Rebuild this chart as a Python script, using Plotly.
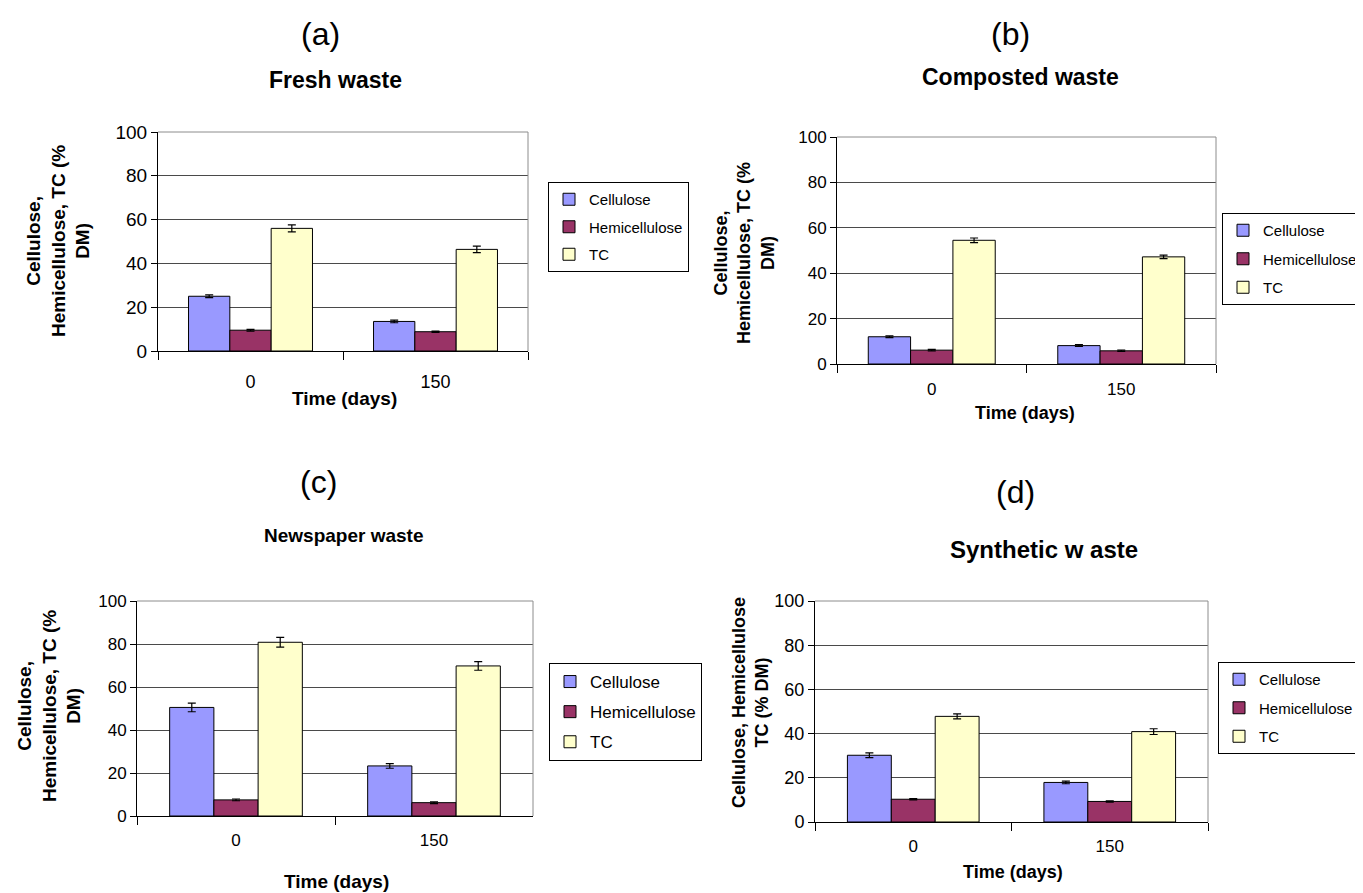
import plotly.graph_objects as go

W, H = 1363, 893
FONT = "Liberation Sans, Arial, sans-serif"

times = ["0", "150"]
series_names = ["Cellulose", "Hemicellulose", "TC"]
series_colors = ["#9999FF", "#993366", "#FFFFCC"]

# (a) Fresh waste
fresh_cellulose = [25.0, 13.5]
fresh_hemicellulose = [9.5, 8.8]
fresh_tc = [56.0, 46.4]
fresh_cellulose_err = [0.6, 0.6]
fresh_hemicellulose_err = [0.4, 0.3]
fresh_tc_err = [1.6, 1.5]

# (b) Composted waste
comp_cellulose = [12.0, 8.1]
comp_hemicellulose = [6.1, 5.8]
comp_tc = [54.5, 47.2]
comp_cellulose_err = [0.4, 0.4]
comp_hemicellulose_err = [0.3, 0.3]
comp_tc_err = [1.0, 0.8]

# (c) Newspaper waste
news_cellulose = [50.5, 23.3]
news_hemicellulose = [7.5, 6.2]
news_tc = [80.8, 69.8]
news_cellulose_err = [2.0, 1.1]
news_hemicellulose_err = [0.4, 0.4]
news_tc_err = [2.3, 2.0]

# (d) Synthetic waste
syn_cellulose = [30.2, 17.9]
syn_hemicellulose = [10.3, 9.3]
syn_tc = [47.8, 40.9]
syn_cellulose_err = [1.1, 0.6]
syn_hemicellulose_err = [0.3, 0.3]
syn_tc_err = [1.1, 1.3]

panel_letters = ["(a)", "(b)", "(c)", "(d)"]
panel_titles = ["Fresh waste", "Composted waste", "Newspaper waste", "Synthetic w aste"]
x_title = "Time (days)"
y_titles = [
    "Cellulose,<br>Hemicellulose, TC (%<br>DM)",
    "Cellulose,<br>Hemicellulose, TC (%<br>DM)",
    "Cellulose,<br>Hemicellulose, TC (%<br>DM)",
    "Cellulose, Hemicellulose<br>TC (% DM)",
]
y_ticks = [0, 20, 40, 60, 80, 100]

panels_values = [
    ([fresh_cellulose, fresh_hemicellulose, fresh_tc],
     [fresh_cellulose_err, fresh_hemicellulose_err, fresh_tc_err]),
    ([comp_cellulose, comp_hemicellulose, comp_tc],
     [comp_cellulose_err, comp_hemicellulose_err, comp_tc_err]),
    ([news_cellulose, news_hemicellulose, news_tc],
     [news_cellulose_err, news_hemicellulose_err, news_tc_err]),
    ([syn_cellulose, syn_hemicellulose, syn_tc],
     [syn_cellulose_err, syn_hemicellulose_err, syn_tc_err]),
]

# ---------------- layout / styling (page pixels) ----------------
OFF = 8  # page body margin of the html page
areas = [(158, 528, 132, 351), (837, 1216, 137, 364), (137, 533, 601, 816), (815, 1208, 601, 822)]
letter_pos = [(320, 34), (1010, 34), (318, 482), (1015, 492)]
title_pos = [(335, 80), (1020, 77), (343, 535), (1044, 549)]
title_size = [23, 23, 19, 24]
tick_size = [19, 17, 17, 18]
cat_size = [18, 17, 17, 17]
label_standoff = [14, 10, 9, 9]
xt_pos = [(344, 399), (1025, 413), (336, 881), (1013, 872)]
xt_size = [19, 18, 19, 18]
yt_pos = [(58, 241), (745, 253), (49, 706), (750, 703)]
yt_size = [19, 18, 19, 18]
legend_pos = [(548, 182), (1222, 213), (549, 663), (1218, 662)]
legend_size = [15, 15, 17, 15]
legend_gap = [5, 6, 5, 6]


def px(x):
    return (x - OFF) / W


def py(y):
    return 1 - (y - OFF) / H


fig = go.Figure()
annotations = []
shapes = []

for i in range(4):
    sfx = "" if i == 0 else str(i + 1)
    xa, ya = "x" + sfx, "y" + sfx
    leg = "legend" + sfx
    vals, errs = panels_values[i]
    for j in range(3):
        fig.add_trace(go.Bar(
            x=times, y=vals[j], name=series_names[j],
            marker=dict(color=series_colors[j], line=dict(color="black", width=1)),
            error_y=dict(type="data", array=errs[j], visible=True,
                         color="black", thickness=1.2, width=4),
            xaxis=xa, yaxis=ya, legend=leg,
            legendgroup=f"p{i}_{j}", showlegend=True,
        ))
    l, r, t, b = areas[i]
    fig.update_layout(**{
        "xaxis" + sfx: dict(
            domain=[px(l), px(r)], anchor=ya, type="category",
            tickson="boundaries", ticks="outside", ticklen=8, tickcolor="black",
            showline=True, linecolor="black", linewidth=1, showgrid=False,
            tickfont=dict(family=FONT, size=cat_size[i], color="black"),
            ticklabelstandoff=label_standoff[i], fixedrange=True,
        ),
        "yaxis" + sfx: dict(
            domain=[py(b), py(t)], anchor=xa, range=[0, 100],
            tickvals=y_ticks, ticks="outside", ticklen=6, tickcolor="black",
            showline=True, linecolor="black", linewidth=1,
            showgrid=True, gridcolor="#4a4a4a", gridwidth=1, zeroline=False,
            tickfont=dict(family=FONT, size=tick_size[i], color="black"),
            fixedrange=True,
        ),
        leg: dict(
            x=px(legend_pos[i][0]), y=py(legend_pos[i][1]),
            xanchor="left", yanchor="top",
            bgcolor="white", bordercolor="black", borderwidth=1,
            font=dict(family=FONT, size=legend_size[i], color="black"),
            traceorder="grouped", tracegroupgap=legend_gap[i],
            itemclick=False, itemdoubleclick=False,
        ),
    })
    # gray frame on top and right
    shapes.append(dict(type="line", xref=xa + " domain", yref=ya + " domain",
                       x0=0, x1=1, y0=1, y1=1, line=dict(color="#8c8c8c", width=1), layer="above"))
    shapes.append(dict(type="line", xref=xa + " domain", yref=ya + " domain",
                       x0=1, x1=1, y0=0, y1=1, line=dict(color="#8c8c8c", width=1), layer="above"))

    annotations.append(dict(text=panel_letters[i], x=px(letter_pos[i][0]), y=py(letter_pos[i][1]),
                            xref="paper", yref="paper", showarrow=False,
                            xanchor="center", yanchor="middle",
                            font=dict(family=FONT, size=32, color="black")))
    annotations.append(dict(text="<b>" + panel_titles[i] + "</b>", x=px(title_pos[i][0]), y=py(title_pos[i][1]),
                            xref="paper", yref="paper", showarrow=False,
                            xanchor="center", yanchor="middle",
                            font=dict(family=FONT, size=title_size[i], color="black")))
    annotations.append(dict(text="<b>" + x_title + "</b>", x=px(xt_pos[i][0]), y=py(xt_pos[i][1]),
                            xref="paper", yref="paper", showarrow=False,
                            xanchor="center", yanchor="middle",
                            font=dict(family=FONT, size=xt_size[i], color="black")))
    annotations.append(dict(text="<b>" + y_titles[i] + "</b>", x=px(yt_pos[i][0]), y=py(yt_pos[i][1]),
                            xref="paper", yref="paper", showarrow=False, textangle=-90,
                            xanchor="center", yanchor="middle", align="center",
                            font=dict(family=FONT, size=yt_size[i], color="black")))

fig.update_layout(
    width=W, height=H,
    margin=dict(l=0, r=0, t=0, b=0, autoexpand=False),
    paper_bgcolor="white", plot_bgcolor="white",
    barmode="group", bargap=0.33, bargroupgap=0,
    annotations=annotations, shapes=shapes,
    font=dict(family=FONT, color="black"),
)

fig.write_html("out.html", config={"displayModeBar": False})
